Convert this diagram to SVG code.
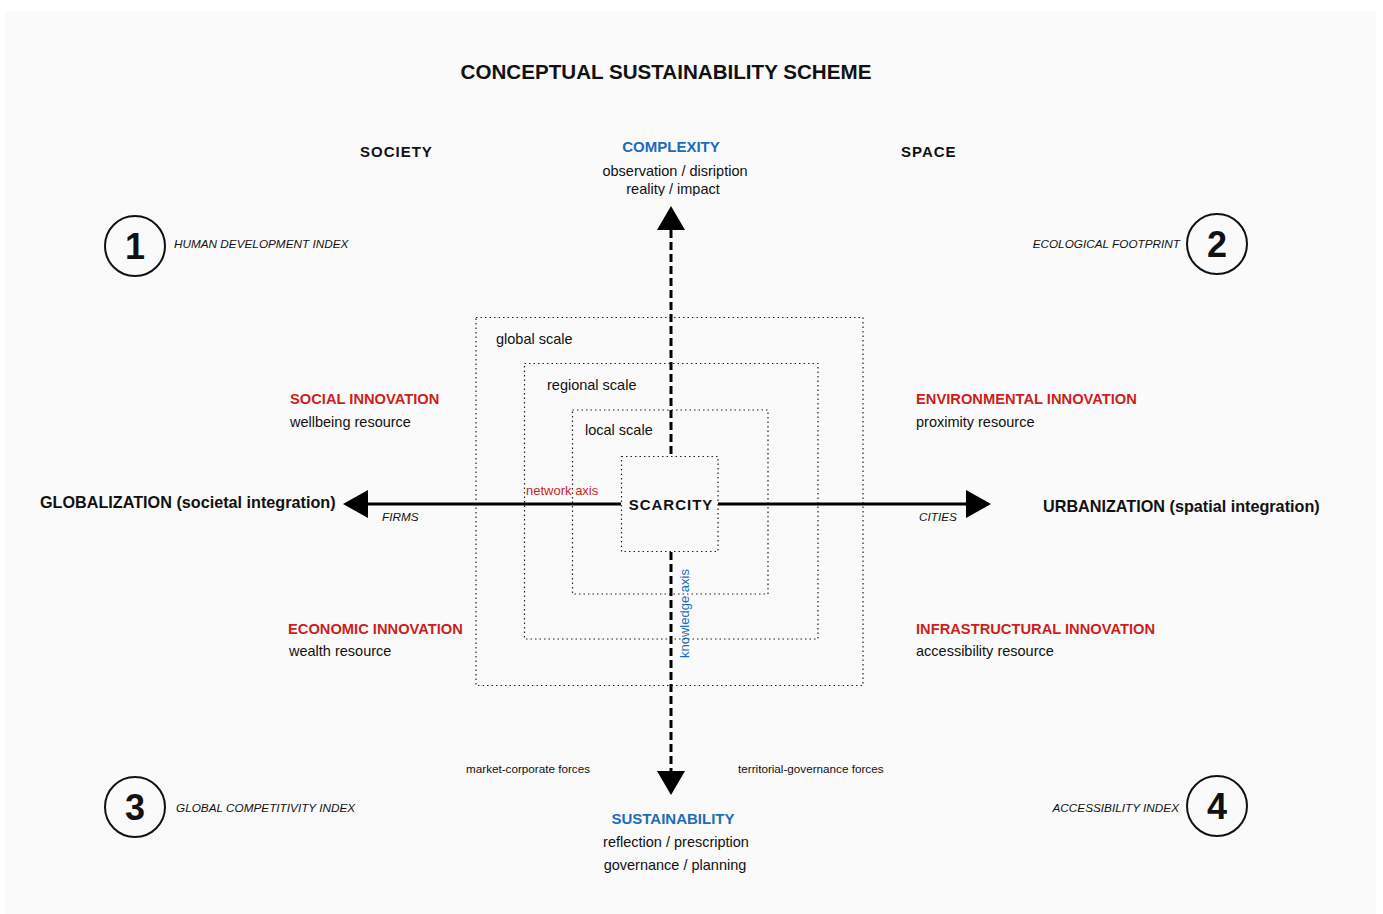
<svg xmlns="http://www.w3.org/2000/svg" width="1383" height="914" viewBox="0 0 1383 914">
  <defs>
    <style>
      text { font-family: "Liberation Sans", Arial, sans-serif; fill: #111; }
      .title { font-size: 20.6px; font-weight: bold; }
      .head { font-size: 15px; font-weight: bold; }
      .wide { letter-spacing: 1px; }
      .blue { fill: #1e6bbd; }
      .red { fill: #cc1f1a; font-size: 14.7px; }
      .sub { font-size: 14.5px; }
      .idx { font-size: 11.75px; font-style: italic; }
      .num { font-size: 36px; font-weight: bold; text-anchor: middle; }
      .axis { font-size: 16.2px; font-weight: bold; }
      .small { font-size: 11.7px; }
      .scale { fill: none; stroke: #222; stroke-width: 1.2; stroke-dasharray: 1.5 3; }
      .ring { fill: none; stroke: #111; stroke-width: 2; }
      .solid { stroke: #000; stroke-width: 3; fill: none; }
      .dashed { stroke: #000; stroke-width: 3; stroke-dasharray: 8 4; fill: none; }
      .head-tri { fill: #000; }
    </style>
    <clipPath id="above-arrow">
      <rect x="560" y="175" width="230" height="21"/>
    </clipPath>
  </defs>

  <!-- page -->
  <rect x="0" y="0" width="1383" height="914" fill="#ffffff"/>
  <rect x="5" y="11" width="1371" height="903" fill="#fafafa"/>

  <text class="title" x="666" y="79" text-anchor="middle">CONCEPTUAL SUSTAINABILITY SCHEME</text>

  <g id="society"><text class="head wide" x="360" y="157">SOCIETY</text></g>
  <g id="space"><text class="head wide" x="901" y="157">SPACE</text></g>

  <!-- nested scale frames -->
  <g id="global-scale">
    <rect class="scale" x="476" y="317.5" width="387" height="368"/>
    <text class="sub" x="496" y="344">global scale</text>
  </g>
  <g id="regional-scale">
    <rect class="scale" x="524.5" y="363.5" width="293.5" height="275.5"/>
    <text class="sub" x="547" y="390">regional scale</text>
  </g>
  <g id="local-scale">
    <rect class="scale" x="572.5" y="410" width="195.5" height="184"/>
    <text class="sub" x="585" y="435">local scale</text>
  </g>

  <!-- axes -->
  <g id="connectors">
    <line class="dashed" x1="671" y1="230" x2="671" y2="456"/>
    <polygon class="head-tri" points="671,206 657,230 685,230"/>
    <line class="dashed" x1="671" y1="552" x2="671" y2="772"/>
    <polygon class="head-tri" points="671,795 657,771 685,771"/>
    <line class="solid" x1="367" y1="504" x2="621" y2="504"/>
    <polygon class="head-tri" points="343,504 368,490 368,518"/>
    <line class="solid" x1="718" y1="504" x2="968" y2="504"/>
    <polygon class="head-tri" points="991,504 966,490 966,518"/>
    <text x="526" y="495" style="font-size:13px;fill:#cc1f1a">network axis</text>
    <text class="blue" transform="translate(688.5,658) rotate(-90)" style="font-size:13px">knowledge axis</text>
    <text class="idx" x="382" y="521">FIRMS</text>
    <text class="idx" x="919" y="521">CITIES</text>
  </g>

  <g id="scarcity">
    <rect class="scale" x="621.5" y="456.5" width="96.5" height="95" fill="#fafafa"/>
    <text class="head wide" x="671" y="510" text-anchor="middle">SCARCITY</text>
  </g>

  <g id="complexity">
    <text class="head blue" x="671" y="152" text-anchor="middle">COMPLEXITY</text>
    <text class="sub" x="675" y="176" text-anchor="middle">observation / disription</text>
    <text class="sub" x="673" y="194" text-anchor="middle" clip-path="url(#above-arrow)">reality / impact</text>
  </g>

  <g id="sustainability">
    <text class="head blue" x="673" y="824" text-anchor="middle">SUSTAINABILITY</text>
    <text class="sub" x="676" y="847" text-anchor="middle">reflection / prescription</text>
    <text class="sub" x="675" y="870" text-anchor="middle">governance / planning</text>
  </g>

  <g id="globalization"><text class="axis" x="40" y="508">GLOBALIZATION (societal integration)</text></g>
  <g id="urbanization"><text class="axis" x="1043" y="512">URBANIZATION (spatial integration)</text></g>

  <g id="social-innovation">
    <text class="head red" x="290" y="404">SOCIAL INNOVATION</text>
    <text class="sub" x="290" y="427">wellbeing resource</text>
  </g>
  <g id="environmental-innovation">
    <text class="head red" x="916" y="404">ENVIRONMENTAL INNOVATION</text>
    <text class="sub" x="916" y="427">proximity resource</text>
  </g>
  <g id="economic-innovation">
    <text class="head red" x="288" y="634">ECONOMIC INNOVATION</text>
    <text class="sub" x="289" y="656">wealth resource</text>
  </g>
  <g id="infrastructural-innovation">
    <text class="head red" x="916" y="634">INFRASTRUCTURAL INNOVATION</text>
    <text class="sub" x="916" y="656">accessibility resource</text>
  </g>

  <g id="forces">
    <text class="small" x="466" y="773">market-corporate forces</text>
    <text class="small" x="738" y="773">territorial-governance forces</text>
  </g>

  <!-- numbered indices -->
  <g id="index-1">
    <circle class="ring" cx="135" cy="246" r="30"/>
    <text class="num" x="135" y="259">1</text>
    <text class="idx" x="174" y="248">HUMAN DEVELOPMENT INDEX</text>
  </g>
  <g id="index-2">
    <circle class="ring" cx="1217" cy="244" r="30"/>
    <text class="num" x="1217" y="257">2</text>
    <text class="idx" x="1180" y="248" text-anchor="end">ECOLOGICAL FOOTPRINT</text>
  </g>
  <g id="index-3">
    <circle class="ring" cx="135" cy="807" r="30"/>
    <text class="num" x="135" y="820">3</text>
    <text class="idx" x="176" y="812">GLOBAL COMPETITIVITY INDEX</text>
  </g>
  <g id="index-4">
    <circle class="ring" cx="1217" cy="806" r="30"/>
    <text class="num" x="1217" y="819">4</text>
    <text class="idx" x="1179" y="812" text-anchor="end">ACCESSIBILITY INDEX</text>
  </g>
</svg>
